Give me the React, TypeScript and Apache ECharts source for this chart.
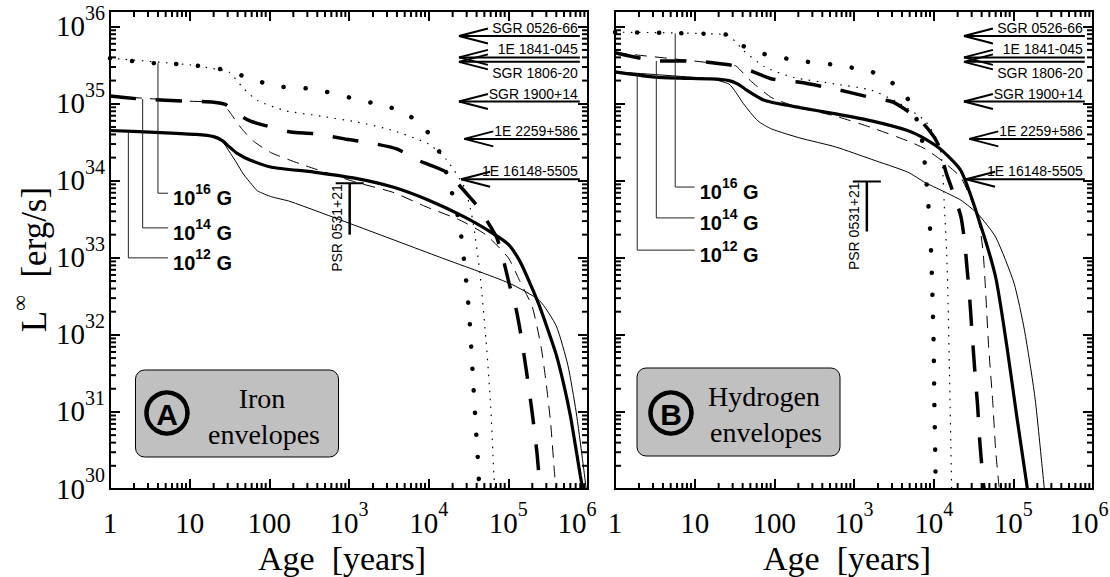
import React, { useEffect, useRef } from 'react';
import * as echarts from 'echarts';

type Pt = [number, number];

// ---------- Panel A: iron envelopes  [age (yr), L (erg/s)] ----------
const FE_12_THIN: Pt[] = [[1, 4.5e34], [12, 4.0e34], [20, 3.7e34], [26, 3.2e34], [31, 2.45e34], [39, 1.7e34], [47, 1.23e34], [60, 9e33], [71, 7.4e33], [107, 6.2e33], [182, 5.4e33], [1020, 2.8e33], [1.38e4, 1.02e33], [1.02e5, 4.7e32], [2.45e5, 2.8e32], [4.0e5, 1.3e32], [5.6e5, 4e31], [7.1e5, 1e31], [8.5e5, 2.5e30], [9.5e5, 1e30]];
const FE_12_THICK: Pt[] = [[1, 4.5e34], [5, 4.2e34], [12, 4.0e34], [20, 3.75e34], [26, 3.3e34], [31, 2.8e34], [40, 2.25e34], [57, 1.86e34], [107, 1.5e34], [360, 1.3e34], [1260, 1.07e34], [3550, 8.3e33], [1e4, 5.6e33], [2.8e4, 3.4e33], [6.3e4, 2.1e33], [1.0e5, 1.5e33], [1.4e5, 9e32], [1.9e5, 4.5e32], [2.45e5, 2.4e32], [3.2e5, 1.1e32], [4.0e5, 5.5e31], [5.0e5, 2.2e31], [6.0e5, 9e30], [7.0e5, 3.5e30], [8.0e5, 1.5e30], [8.6e5, 1.0e30]];
const FE_14_THIN: Pt[] = [[1, 1.26e35], [10, 1.08e35], [20, 1.05e35], [26, 9.8e34], [31, 8.1e34], [38, 6.0e34], [47, 4.5e34], [65, 3.2e34], [107, 2.3e34], [270, 1.6e34], [1260, 9.5e33], [3550, 7.1e33], [9300, 4.6e33], [2.45e4, 3.1e33], [5.2e4, 2.0e33], [1.0e5, 1.0e33], [1.38e5, 5.1e32], [2.0e5, 2.3e32], [2.57e5, 7.1e31], [2.95e5, 2.6e31], [3.4e5, 7.1e30], [3.8e5, 1.6e30], [4.0e5, 1e30]];
const FE_14_THICK: Pt[] = [[1, 1.26e35], [2.5, 1.15e35], [10, 1.08e35], [20, 1.05e35], [28, 9.8e34], [38, 7.6e34], [57, 6.0e34], [87, 5.25e34], [186, 4.3e34], [367, 4.1e34], [883, 3.5e34], [1730, 3.15e34], [3950, 2.6e34], [7800, 1.8e34], [1.66e4, 1.3e34], [3.55e4, 5.6e33], [4.4e4, 4.2e33], [7.1e4, 1.86e33], [8.5e4, 1.02e33], [1.02e5, 4.7e32], [1.26e5, 2.1e32], [1.45e5, 9.5e31], [1.7e5, 3.2e31], [2.0e5, 9.5e30], [2.3e5, 2.8e30], [2.5e5, 1e30]];
const FE_16_THIN: Pt[] = [[1, 3.9e35], [10, 3.2e35], [22, 2.8e35], [31, 2.6e35], [47, 1.6e35], [71, 1.1e35], [162, 8.1e34], [447, 6.9e34], [1260, 5.8e34], [3550, 4.5e34], [1e4, 3.0e34], [1.66e4, 1.9e34], [2.8e4, 8.3e33], [3.55e4, 3.2e33], [4.4e4, 6.3e32], [5.25e4, 8.5e31], [6.0e4, 1.2e31], [6.6e4, 1.45e30], [6.8e4, 1e30]];
const FE_16_THICK: Pt[] = [[1, 3.9e35], [3, 3.4e35], [10, 3.2e35], [25, 2.8e35], [47, 2.3e35], [117, 1.7e35], [363, 1.55e35], [1030, 1.2e35], [2900, 9.3e34], [4900, 7.8e34], [9100, 4.7e34], [1.38e4, 2.3e34], [1.9e4, 7.9e33], [2.45e4, 2.7e33], [2.95e4, 5.1e32], [3.24e4, 1.74e32], [3.55e4, 3.5e31], [3.9e4, 6.5e30], [4.2e4, 1.95e30], [4.3e4, 1e30]];

// ---------- Panel B: hydrogen envelopes ----------
const H_12_THIN: Pt[] = [[1, 2.6e35], [16, 2.1e35], [27, 1.8e35], [33, 1.4e35], [41, 1.0e35], [62, 6.0e34], [93, 4.7e34], [209, 3.6e34], [590, 2.75e34], [1660, 1.9e34], [4700, 1.3e34], [7800, 9.5e33], [1.29e4, 7.4e33], [2.2e4, 5.6e33], [3.6e4, 3.7e33], [6.0e4, 1.86e33], [1.02e5, 4.7e32], [1.38e5, 1.15e32], [1.86e5, 1.6e31], [2.3e5, 1.95e30], [2.45e5, 1e30]];
const H_12_THICK: Pt[] = [[1, 2.6e35], [3.5, 2.2e35], [16, 2.1e35], [27, 2.0e35], [35, 1.8e35], [45, 1.5e35], [76, 1.1e35], [209, 8.9e34], [590, 7.4e34], [1660, 6.0e34], [4700, 4.5e34], [7800, 3.5e34], [1.29e4, 2.45e34], [2.2e4, 1.35e34], [3.6e4, 3.4e33], [6.0e4, 5.6e32], [8.3e4, 7.1e31], [1.12e5, 7.9e30], [1.45e5, 1.3e30], [1.5e5, 1e30]];
const H_14_THIN: Pt[] = [[1, 4.6e35], [9.5, 3.6e35], [27, 3.2e35], [33, 3.1e35], [50, 2.0e35], [93, 1.2e35], [209, 8.9e34], [590, 6.9e34], [1660, 4.9e34], [4700, 3.3e34], [7800, 2.6e34], [1.29e4, 1.8e34], [2.2e4, 1.1e34], [3.2e4, 4.6e33], [3.8e4, 2.5e33], [4.2e4, 1.1e33], [4.5e4, 3.5e32], [4.9e4, 7e31], [5.5e4, 1.4e31], [6.0e4, 3.2e30], [6.6e4, 1.1e30], [6.7e4, 1e30]];
const H_14_THICK: Pt[] = [[1, 4.6e35], [3.5, 3.6e35], [9.5, 3.6e35], [27, 3.2e35], [45, 2.8e35], [93, 2.1e35], [209, 1.9e35], [590, 1.55e35], [1660, 1.2e35], [3100, 1.05e35], [6900, 6.0e34], [1.1e4, 3.2e34], [1.45e4, 1.23e34], [1.78e4, 6.8e33], [2.2e4, 3.4e33], [2.45e4, 1.6e33], [2.63e4, 7.1e32], [2.8e4, 3.5e32], [3.0e4, 1.26e32], [3.3e4, 3.2e31], [3.55e4, 1.26e31], [3.8e4, 4e30], [4.2e4, 1.2e30], [4.3e4, 1e30]];
const H_16_THIN: Pt[] = [[1, 8.5e35], [25, 7.9e35], [33, 6.3e35], [41, 4.9e35], [76, 3.0e35], [174, 2.2e35], [590, 1.8e35], [1660, 1.5e35], [3800, 1.0e35], [7800, 6.0e34], [1.17e4, 3.0e34], [1.29e4, 1.5e34], [1.35e4, 5.6e33], [1.45e4, 1.26e33], [1.51e4, 3.2e32], [1.58e4, 3.2e31], [1.66e4, 2e30], [1.68e4, 1e30]];
const H_16_THICK: Pt[] = [[1, 8.5e35], [25, 7.9e35], [33, 6.8e35], [41, 5.6e35], [76, 4.4e35], [209, 3.6e35], [590, 3.2e35], [1660, 2.6e35], [2750, 2.0e35], [4200, 1.4e35], [5400, 8.9e34], [6600, 4.9e34], [7400, 2.75e34], [7800, 1.5e34], [8500, 5.6e33], [9100, 2.0e33], [9550, 5e32], [1.0e4, 7.1e31], [1.02e4, 1.3e31], [1.05e4, 2.4e30], [1.06e4, 1e30]];

// ---------- observed sources (arrows) ----------
const SOURCE_NAMES = ['SGR 0526-66', '1E 1841-045', 'SGR 1806-20', 'SGR 1900+14', '1E 2259+586', '1E 16148-5505'];
const SOURCE_LUM = [7.6e35, 4.0e35, 3.5e35, 1.07e35, 3.5e34, 1.05e34];
const SOURCE_ARROW_AGE = [2.4e4, 2.4e4, 2.4e4, 2.4e4, 2.8e4, 2.55e4];
const SOURCE_LABEL_BELOW = [false, false, true, false, false, false];
const ARROW_END_AGE = 7.9e5;

// ---------- PSR 0531+21 ----------
const PSR_NAME = 'PSR 0531+21';
const PSR_AGE = [1.02e3, 1.45e3];
const PSR_LUM_TOP = [9.3e33, 9.8e33];
const PSR_LUM_BOTTOM = [2.0e33, 2.2e33];

// ---------- field labels ----------
const FIELD_EXP = ['16', '14', '12'];
const LEADER_AGE = [[4.0, 2.57, 1.7], [5.7, 3.3, 1.9]];
const LEADER_TOP = [[3.35e35, 1.15e35, 4.4e34], [8.2e35, 3.6e35, 2.45e35]];
const LEADER_BOTTOM = [[6.9e33, 2.45e33, 1.0e33], [8.3e33, 3.3e33, 1.26e33]];
const LEADER_END_AGE = [5.35, 10];

// ---------- axes ----------
const X_TICKS = [1, 10, 100, 1e3, 1e4, 1e5, 1e6];
const Y_TICKS = [1e30, 1e31, 1e32, 1e33, 1e34, 1e35, 1e36];
const X_MIN = 1, X_MAX = 1e6, Y_MIN = 1e30, Y_MAX = 1.6e36;
const PANEL_TEXT = [['A', 'Iron', 'envelopes'], ['B', 'Hydrogen', 'envelopes']];

// layout
const PANEL_LEFT = [110, 615];
const GRID_TOP = 11, GRID_W = 478, GRID_H = 478;
const BOX = [[135.5, 370, 203, 87], [637, 368, 203, 88]];
const CIRCLE = [[167, 413], [671, 413]];
const BOX_TEXT_X = [262, 764];
const MAJOR_LEN = 10, MINOR_LEN = 6, TICK_W = 2;

const SERIF = '"Liberation Serif", "Times New Roman", serif';
const SANS = '"Liberation Sans", Arial, sans-serif';

const PANEL_CURVES = [
  [FE_12_THIN, FE_12_THICK, FE_14_THIN, FE_14_THICK, FE_16_THIN, FE_16_THICK],
  [H_12_THIN, H_12_THICK, H_14_THIN, H_14_THICK, H_16_THIN, H_16_THICK],
];
const CURVE_STYLES: any[] = [
  { width: 1, type: 'solid' },
  { width: 3.2, type: 'solid' },
  { width: 1, type: [12, 8] },
  { width: 3.5, type: [26, 20] },
  { width: 1.2, type: [1.5, 6.5] },
  { width: 4.5, type: [0.1, 22], cap: 'round' },
];

const isPow10 = (v: number) => Math.abs(Math.log10(v) - Math.round(Math.log10(v))) < 1e-6;

// minor tick positions: [value, 0 = on x axis / 1 = on y axis]
function minorTicks() {
  const m: [number, number][] = [];
  for (let e = 0; e < X_TICKS.length - 1; e++) for (let k = 2; k <= 9; k++) m.push([k * X_TICKS[e], 0]);
  for (let e = 0; e < Y_TICKS.length; e++) for (let k = 2; k <= 9; k++) { const v = k * Y_TICKS[e]; if (v < Y_MAX) m.push([v, 1]); }
  return m;
}
const MINOR_ITEMS = minorTicks();

const minorRender = (params: any, api: any) => {
  const item = MINOR_ITEMS[params.dataIndex];
  const v = item[0];
  const style = { stroke: '#000', lineWidth: TICK_W };
  if (item[1] === 0) {
    const b = api.coord([v, Y_MIN]);
    const t = api.coord([v, Y_MAX]);
    return { type: 'group', children: [
      { type: 'line', shape: { x1: b[0], y1: b[1], x2: b[0], y2: b[1] - MINOR_LEN }, style },
      { type: 'line', shape: { x1: t[0], y1: t[1], x2: t[0], y2: t[1] + MINOR_LEN }, style },
    ] };
  }
  const l = api.coord([X_MIN, v]);
  const r = api.coord([X_MAX, v]);
  return { type: 'group', children: [
    { type: 'line', shape: { x1: l[0], y1: l[1], x2: l[0] + MINOR_LEN, y2: l[1] }, style },
    { type: 'line', shape: { x1: r[0], y1: r[1], x2: r[0] - MINOR_LEN, y2: r[1] }, style },
  ] };
};

const arrowRender = (params: any, api: any) => {
  const i = params.dataIndex;
  const tip = api.coord([SOURCE_ARROW_AGE[i], SOURCE_LUM[i]]);
  const end = api.coord([ARROW_END_AGE, SOURCE_LUM[i]]);
  const s = { stroke: '#000', lineWidth: 2 };
  return { type: 'group', children: [
    { type: 'line', shape: { x1: tip[0], y1: tip[1], x2: end[0], y2: end[1] }, style: s },
    { type: 'line', shape: { x1: tip[0], y1: tip[1], x2: tip[0] + 29, y2: tip[1] - 7.5 }, style: s },
    { type: 'line', shape: { x1: tip[0], y1: tip[1], x2: tip[0] + 29, y2: tip[1] + 7.5 }, style: s },
    { type: 'text', x: end[0] - 2, y: tip[1] + (SOURCE_LABEL_BELOW[i] ? 11 : -8),
      style: { text: SOURCE_NAMES[i], fill: '#000', font: `14px ${SANS}`, align: 'right', verticalAlign: 'middle' } },
  ] };
};

const makePsrRender = (p: number) => (params: any, api: any) => {
  const top = api.coord([PSR_AGE[p], PSR_LUM_TOP[p]]);
  const bot = api.coord([PSR_AGE[p], PSR_LUM_BOTTOM[p]]);
  return { type: 'group', children: [
    { type: 'line', shape: { x1: top[0], y1: top[1], x2: bot[0], y2: bot[1] }, style: { stroke: '#000', lineWidth: 2.5 } },
    { type: 'line', shape: { x1: top[0] - 14, y1: top[1], x2: top[0] + 14, y2: top[1] }, style: { stroke: '#000', lineWidth: 2 } },
    { type: 'text', x: top[0] - 13, y: top[1] + 1, rotation: Math.PI / 2,
      style: { text: PSR_NAME, fill: '#000', font: `14px ${SANS}`, align: 'right', verticalAlign: 'middle' } },
  ] };
};

const makeLeaderRender = (p: number) => (params: any, api: any) => {
  const i = params.dataIndex;
  const p1 = api.coord([LEADER_AGE[p][i], LEADER_TOP[p][i]]);
  const p2 = api.coord([LEADER_AGE[p][i], LEADER_BOTTOM[p][i]]);
  const p3 = api.coord([LEADER_END_AGE[p], LEADER_BOTTOM[p][i]]);
  return { type: 'group', children: [
    { type: 'polyline', shape: { points: [p1, p2, p3] }, style: { stroke: '#222', lineWidth: 1, fill: 'none' } },
    { type: 'text', x: p3[0] + 5, y: p3[1] + 2,
      style: {
        text: `{a|10}{s|${FIELD_EXP[i]}}{a| G}`, fill: '#000', align: 'left', verticalAlign: 'middle',
        rich: {
          a: { font: `bold 20px ${SANS}`, lineHeight: 26, verticalAlign: 'bottom', fill: '#000' },
          s: { font: `bold 14px ${SANS}`, lineHeight: 14, verticalAlign: 'top', fill: '#000' },
        },
      } },
  ] };
};

const labelRich = {
  b: { fontFamily: SERIF, fontSize: 29, lineHeight: 38, verticalAlign: 'bottom', color: '#000' },
  s: { fontFamily: SERIF, fontSize: 20, lineHeight: 20, verticalAlign: 'top', color: '#000' },
  s6: { fontFamily: SERIF, fontSize: 20, lineHeight: 20, verticalAlign: 'top', color: '#000', padding: [0, 22, 0, 0] },
  s6r: { fontFamily: SERIF, fontSize: 20, lineHeight: 20, verticalAlign: 'top', color: '#000', padding: [0, 8, 0, 0] },
};

const xFormatter = (panel: number) => (v: number) => {
  if (!isPow10(v)) return '';
  const e = Math.round(Math.log10(v));
  if (e <= 2) return `{b|${Math.round(v)}}`;
  if (e === 6) return panel === 0 ? `{b|10}{s6|6}` : `{b|10}{s6r|6}`;
  return `{b|10}{s|${e}}`;
};
const yFormatter = (v: number) => {
  if (!isPow10(v)) return '';
  return `{b|10}{s|${Math.round(Math.log10(v))}}`;
};

const majorTick = { show: true, inside: true, length: MAJOR_LEN, lineStyle: { color: '#000', width: TICK_W } };

function buildOption() {
  const grid = PANEL_LEFT.map((l) => ({
    left: l, top: GRID_TOP, width: GRID_W, height: GRID_H,
    show: true, borderColor: '#000', borderWidth: 2, backgroundColor: 'transparent',
    containLabel: false, outerBoundsMode: 'none',
  }));
  const xAxis: any[] = [0, 1].map((p) => ({
    type: 'log', logBase: 10, gridIndex: p, min: X_MIN, max: X_MAX, position: 'bottom',
    axisLine: { show: false }, axisTick: { ...majorTick }, minorTick: { show: false }, splitLine: { show: false },
    axisLabel: { formatter: xFormatter(p), rich: labelRich, margin: 10, color: '#000' },
    name: 'Age  [years]', nameLocation: 'middle', nameGap: 50,
    nameTextStyle: { fontFamily: SERIF, fontSize: 34, color: '#000', padding: [0, 14, 0, 0] },
  }));
  [0, 1].forEach((p) => xAxis.push({
    type: 'log', logBase: 10, gridIndex: p, min: X_MIN, max: X_MAX, position: 'top',
    axisLine: { show: false }, axisTick: { ...majorTick }, splitLine: { show: false }, axisLabel: { show: false },
  }));
  const yAxis: any[] = [0, 1].map((p) => ({
    type: 'log', logBase: 10, gridIndex: p, min: Y_MIN, max: Y_MAX, position: 'left',
    axisLine: { show: false }, axisTick: { ...majorTick }, splitLine: { show: false },
    axisLabel: { show: p === 0, formatter: yFormatter, rich: labelRich, margin: 5, padding: [0, 0, 10, 0], color: '#000' },
  }));
  [0, 1].forEach((p) => yAxis.push({
    type: 'log', logBase: 10, gridIndex: p, min: Y_MIN, max: Y_MAX, position: 'right',
    axisLine: { show: false }, axisTick: { ...majorTick }, splitLine: { show: false }, axisLabel: { show: false },
  }));
  const series: any[] = [];
  PANEL_CURVES.forEach((curves, p) => {
    curves.forEach((data, k) => {
      series.push({
        type: 'line', xAxisIndex: p, yAxisIndex: p, data, showSymbol: false, symbol: 'none',
        smooth: 0.2, z: 3, silent: true,
        lineStyle: { color: '#000', ...CURVE_STYLES[k] },
      });
    });
    series.push({
      type: 'custom', xAxisIndex: p, yAxisIndex: p, z: 6, silent: true,
      data: MINOR_ITEMS.map((m) => (m[1] === 0 ? [m[0], 1e33] : [1e3, m[0]])),
      renderItem: minorRender,
    });
    series.push({ type: 'custom', xAxisIndex: p, yAxisIndex: p, data: SOURCE_LUM.map((L, i) => [SOURCE_ARROW_AGE[i], L]), renderItem: arrowRender, z: 5, silent: true });
    series.push({ type: 'custom', xAxisIndex: p, yAxisIndex: p, data: [[PSR_AGE[p], PSR_LUM_TOP[p]]], renderItem: makePsrRender(p), z: 5, silent: true });
    series.push({ type: 'custom', xAxisIndex: p, yAxisIndex: p, data: LEADER_AGE[p].map((a, i) => [a, LEADER_TOP[p][i]]), renderItem: makeLeaderRender(p), z: 5, silent: true });
  });

  const graphic: any[] = [];
  [0, 1].forEach((p) => {
    const [bx, by, bw, bh] = BOX[p];
    graphic.push({ type: 'rect', z: 10, shape: { x: bx, y: by, width: bw, height: bh, r: 9 }, style: { fill: '#c0c0c0', stroke: '#000', lineWidth: 1 } });
    graphic.push({ type: 'circle', z: 11, shape: { cx: CIRCLE[p][0], cy: CIRCLE[p][1], r: 20.5 }, style: { fill: 'none', stroke: '#000', lineWidth: 4.5 } });
    graphic.push({ type: 'text', z: 12, x: CIRCLE[p][0], y: CIRCLE[p][1] + 1, style: { text: PANEL_TEXT[p][0], font: `bold 30px ${SANS}`, fill: '#000', align: 'center', verticalAlign: 'middle' } });
    graphic.push({ type: 'text', z: 12, x: BOX_TEXT_X[p], y: by + 28, style: { text: PANEL_TEXT[p][1], font: `28px ${SERIF}`, fill: '#000', align: 'center', verticalAlign: 'middle' } });
    graphic.push({ type: 'text', z: 12, x: BOX_TEXT_X[p] + 2, y: by + 64, style: { text: PANEL_TEXT[p][2], font: `28px ${SERIF}`, fill: '#000', align: 'center', verticalAlign: 'middle' } });
  });
  graphic.push({
    type: 'text', z: 12, x: 30, y: 259.5, rotation: Math.PI / 2,
    style: {
      text: '{L|L}{s|∞}{t|  [erg/s]}', align: 'center', verticalAlign: 'middle', fill: '#000',
      rich: {
        L: { font: `35px ${SERIF}`, lineHeight: 44, verticalAlign: 'bottom', fill: '#000' },
        s: { font: `22px ${SERIF}`, lineHeight: 22, verticalAlign: 'top', fill: '#000' },
        t: { font: `35px ${SERIF}`, lineHeight: 44, verticalAlign: 'bottom', fill: '#000' },
      },
    },
  });

  return { animation: false, backgroundColor: '#fff', grid, xAxis, yAxis, series, graphic };
}

export default function App() {
  const ref = useRef<HTMLDivElement>(null);
  useEffect(() => {
    if (!ref.current) return;
    const chart = echarts.init(ref.current, null, { renderer: 'svg' });
    chart.setOption(buildOption() as any);
    return () => chart.dispose();
  }, []);
  return <div ref={ref} style={{ position: 'fixed', left: 0, top: 0, width: 1110, height: 577, background: '#fff' }} />;
}
